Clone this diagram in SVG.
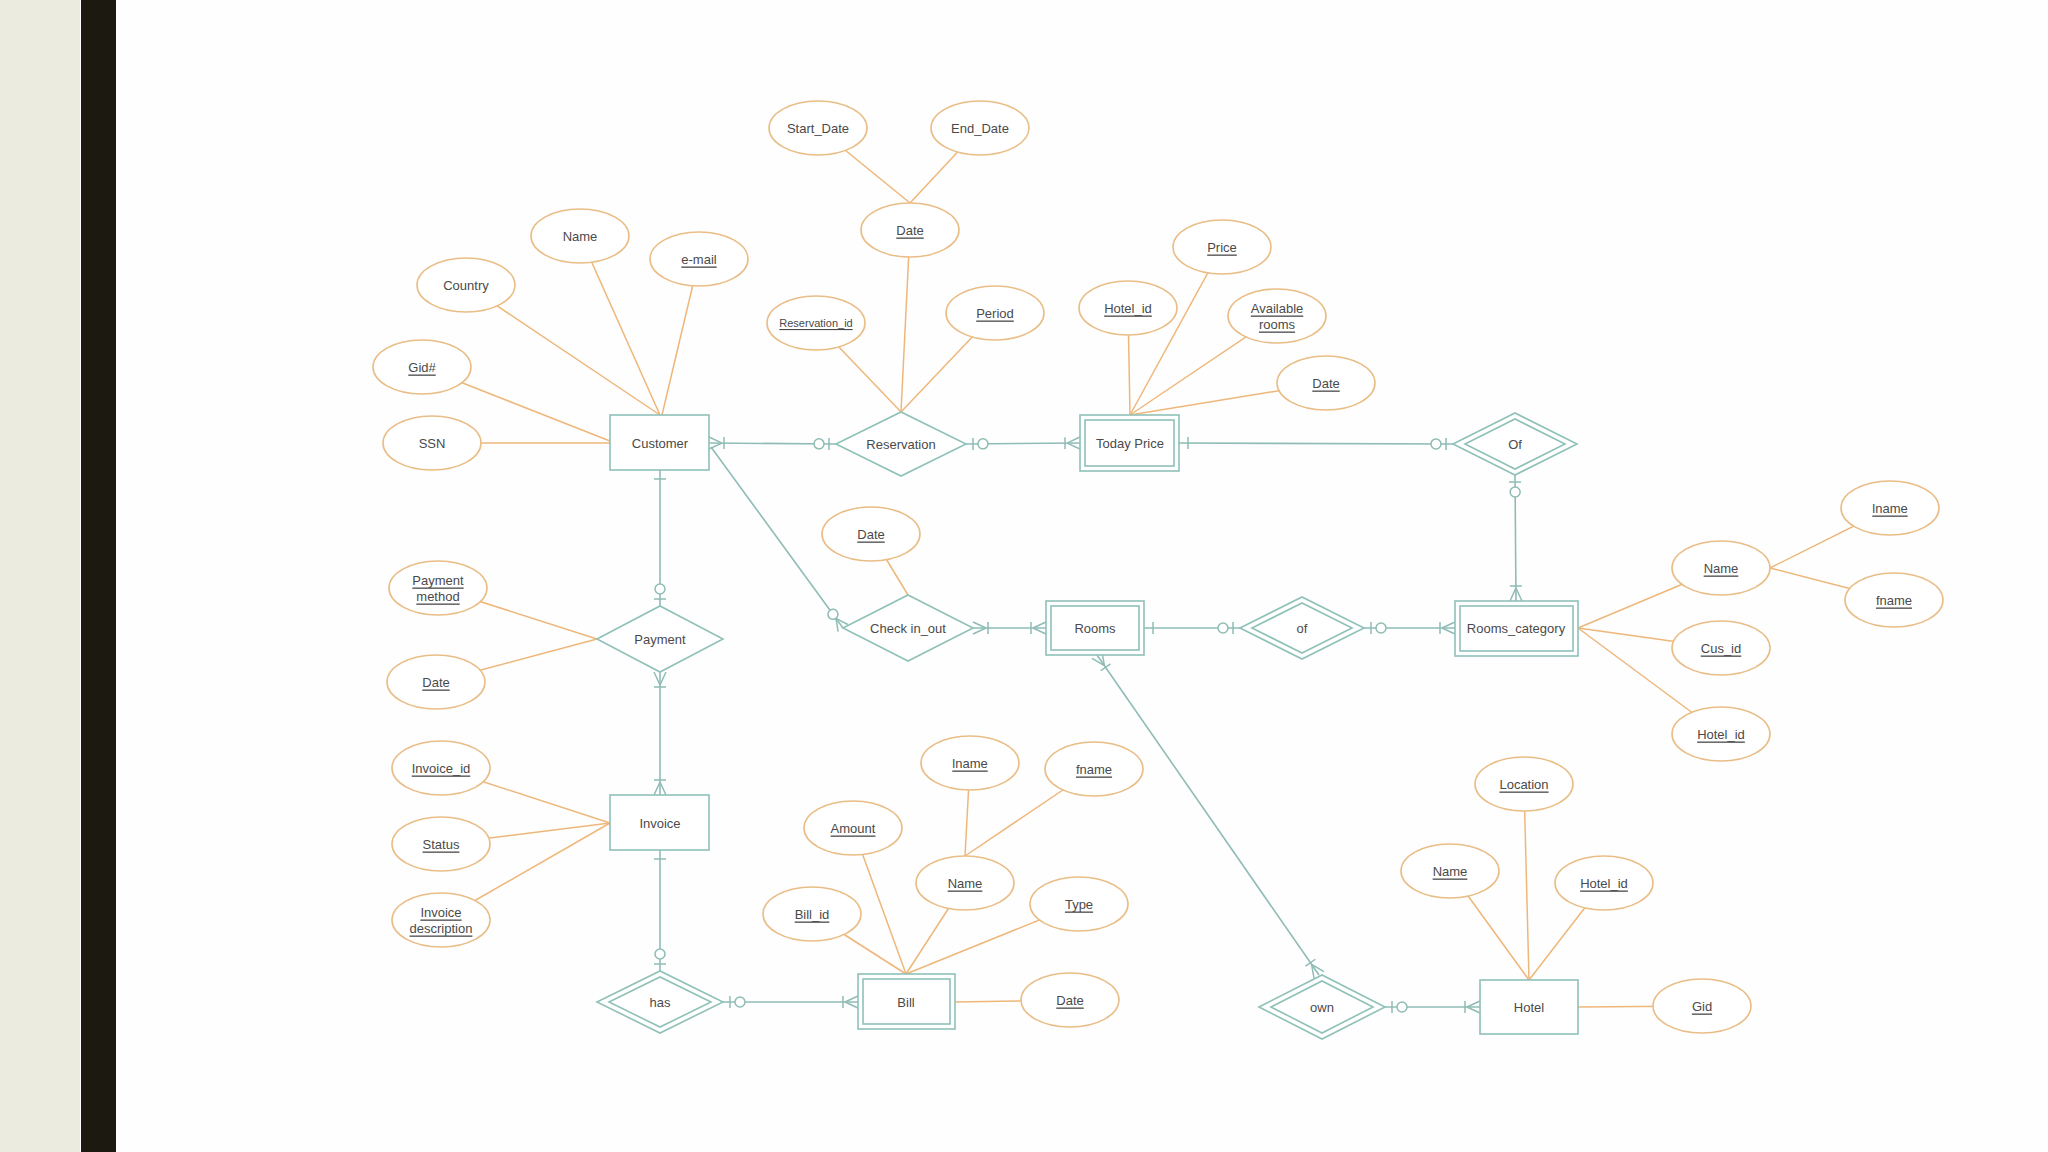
<svg xmlns="http://www.w3.org/2000/svg" width="2048" height="1152" viewBox="0 0 2048 1152">
<defs>
<style>
.ent{fill:#fff;stroke:#8fc1b9;stroke-width:1.6}
.rel{fill:#fff;stroke:#8fc1b9;stroke-width:1.6}
.att{fill:#fff;stroke:#e9bd86;stroke-width:1.6}
.al{stroke:#eeb77a;stroke-width:1.5;fill:none}
.cl{stroke:#8fbcb5;stroke-width:1.6;fill:none}
.t{font-family:"Liberation Sans",Arial,sans-serif;font-size:13px;fill:#4a4a4a;text-anchor:middle;dominant-baseline:central}
.u{text-decoration:underline}
.s{font-size:11px}
</style>
<marker id="oneMany" viewBox="-20 -10 22 20" refX="0" refY="0" markerWidth="22" markerHeight="20" markerUnits="userSpaceOnUse" orient="auto-start-reverse">
<path d="M-13,0 L0,-6 M-13,0 L0,6 M-15,-6 L-15,6" stroke="#8fbcb5" stroke-width="1.5" fill="none"/>
</marker>
<marker id="zeroOne" viewBox="-28 -10 30 20" refX="0" refY="0" markerWidth="30" markerHeight="20" markerUnits="userSpaceOnUse" orient="auto-start-reverse">
<path d="M-7,-6 L-7,6" stroke="#8fbcb5" stroke-width="1.5" fill="none"/>
<circle cx="-17" cy="0" r="5" stroke="#8fbcb5" stroke-width="1.5" fill="#fff"/>
</marker>
<marker id="zeroMany" viewBox="-28 -10 30 20" refX="0" refY="0" markerWidth="30" markerHeight="20" markerUnits="userSpaceOnUse" orient="auto-start-reverse">
<path d="M-12,0 L0,-6 M-12,0 L0,6" stroke="#8fbcb5" stroke-width="1.5" fill="none"/>
<circle cx="-17" cy="0" r="5" stroke="#8fbcb5" stroke-width="1.5" fill="#fff"/>
</marker>
<marker id="one" viewBox="-20 -10 22 20" refX="0" refY="0" markerWidth="22" markerHeight="20" markerUnits="userSpaceOnUse" orient="auto-start-reverse">
<path d="M-9,-6 L-9,6" stroke="#8fbcb5" stroke-width="1.5" fill="none"/>
</marker>
</defs>
<rect x="0" y="0" width="2048" height="1152" fill="#fefefe"/>
<rect x="0" y="0" width="80" height="1152" fill="#ecebe0"/>
<rect x="81" y="0" width="35" height="1152" fill="#1c1a10"/>

<g id="attribute-lines">
<line class="al" x1="432" y1="443" x2="610" y2="443"/>
<line class="al" x1="422" y1="367" x2="610" y2="441"/>
<line class="al" x1="466" y1="285" x2="660" y2="415"/>
<line class="al" x1="580" y1="236" x2="660" y2="415"/>
<line class="al" x1="699" y1="259" x2="662" y2="415"/>
<line class="al" x1="816" y1="323" x2="901" y2="412"/>
<line class="al" x1="910" y1="230" x2="901" y2="412"/>
<line class="al" x1="995" y1="313" x2="901" y2="412"/>
<line class="al" x1="818" y1="128" x2="910" y2="203"/>
<line class="al" x1="980" y1="128" x2="910" y2="203"/>
<line class="al" x1="1128" y1="308" x2="1130" y2="415"/>
<line class="al" x1="1222" y1="247" x2="1130" y2="415"/>
<line class="al" x1="1277" y1="316" x2="1130" y2="415"/>
<line class="al" x1="1326" y1="383" x2="1130" y2="415"/>
<line class="al" x1="1721" y1="568" x2="1578" y2="628"/>
<line class="al" x1="1721" y1="648" x2="1578" y2="628"/>
<line class="al" x1="1721" y1="734" x2="1578" y2="628"/>
<line class="al" x1="1890" y1="508" x2="1770" y2="568"/>
<line class="al" x1="1894" y1="600" x2="1770" y2="568"/>
<line class="al" x1="871" y1="534" x2="908" y2="595"/>
<line class="al" x1="438" y1="588" x2="597" y2="639"/>
<line class="al" x1="436" y1="682" x2="597" y2="639"/>
<line class="al" x1="441" y1="768" x2="610" y2="823"/>
<line class="al" x1="441" y1="844" x2="610" y2="823"/>
<line class="al" x1="441" y1="920" x2="610" y2="823"/>
<line class="al" x1="812" y1="914" x2="906" y2="974"/>
<line class="al" x1="853" y1="828" x2="906" y2="974"/>
<line class="al" x1="965" y1="883" x2="906" y2="974"/>
<line class="al" x1="1079" y1="904" x2="906" y2="974"/>
<line class="al" x1="1070" y1="1000" x2="955" y2="1002"/>
<line class="al" x1="970" y1="763" x2="965" y2="856"/>
<line class="al" x1="1094" y1="769" x2="965" y2="856"/>
<line class="al" x1="1524" y1="784" x2="1529" y2="980"/>
<line class="al" x1="1450" y1="871" x2="1529" y2="980"/>
<line class="al" x1="1604" y1="883" x2="1529" y2="980"/>
<line class="al" x1="1702" y1="1006" x2="1578" y2="1007"/>
</g>

<g id="connectors">
<path class="cl" d="M709,443 L836,444" marker-start="url(#oneMany)" marker-end="url(#zeroOne)"/>
<path class="cl" d="M966,444 L1080,443" marker-start="url(#zeroOne)" marker-end="url(#oneMany)"/>
<path class="cl" d="M1179,443 L1453,444" marker-start="url(#one)" marker-end="url(#zeroOne)"/>
<path class="cl" d="M1515,475 L1516,601" marker-start="url(#zeroOne)" marker-end="url(#oneMany)"/>
<path class="cl" d="M1364,628 L1455,628" marker-start="url(#zeroOne)" marker-end="url(#oneMany)"/>
<path class="cl" d="M1144,628 L1240,628" marker-start="url(#one)" marker-end="url(#zeroOne)"/>
<path class="cl" d="M973,628 L1046,628" marker-start="url(#oneMany)" marker-end="url(#oneMany)"/>
<path class="cl" d="M711,447 L843,628" marker-end="url(#zeroMany)"/>
<path class="cl" d="M660,470 L660,606" marker-start="url(#one)" marker-end="url(#zeroOne)"/>
<path class="cl" d="M660,672 L660,795" marker-start="url(#oneMany)" marker-end="url(#oneMany)"/>
<path class="cl" d="M660,850 L660,971" marker-start="url(#one)" marker-end="url(#zeroOne)"/>
<path class="cl" d="M723,1002 L858,1002" marker-start="url(#zeroOne)" marker-end="url(#oneMany)"/>
<path class="cl" d="M1097,655 L1319,975" marker-start="url(#oneMany)" marker-end="url(#oneMany)"/>
<path class="cl" d="M1385,1007 L1480,1007" marker-start="url(#zeroOne)" marker-end="url(#oneMany)"/>
</g>

<g id="customer"><rect class="ent" x="610" y="415" width="99" height="55"/><text class="t" x="660" y="443">Customer</text></g>
<g id="reservation"><polygon class="rel" points="836,444 901,412 966,444 901,476"/><text class="t" x="901" y="444">Reservation</text></g>
<g id="today-price"><rect class="ent" x="1080" y="415" width="99" height="56"/><rect class="ent" x="1085" y="420" width="89" height="46"/><text class="t" x="1130" y="443">Today Price</text></g>
<g id="of-top"><polygon class="rel" points="1453,444 1515,413 1577,444 1515,475"/><polygon class="rel" points="1465,444 1515,419 1565,444 1515,469"/><text class="t" x="1515" y="444">Of</text></g>
<g id="rooms-category"><rect class="ent" x="1455" y="601" width="123" height="55"/><rect class="ent" x="1460" y="606" width="113" height="45"/><text class="t" x="1516" y="628">Rooms_category</text></g>
<g id="of-mid"><polygon class="rel" points="1240,628 1302,597 1364,628 1302,659"/><polygon class="rel" points="1252,628 1302,603 1352,628 1302,653"/><text class="t" x="1302" y="628">of</text></g>
<g id="rooms"><rect class="ent" x="1046" y="601" width="98" height="54"/><rect class="ent" x="1051" y="606" width="88" height="44"/><text class="t" x="1095" y="628">Rooms</text></g>
<g id="check-in-out"><polygon class="rel" points="843,628 908,595 973,628 908,661"/><text class="t" x="908" y="628">Check in_out</text></g>
<g id="payment"><polygon class="rel" points="597,639 660,606 723,639 660,672"/><text class="t" x="660" y="639">Payment</text></g>
<g id="invoice"><rect class="ent" x="610" y="795" width="99" height="55"/><text class="t" x="660" y="823">Invoice</text></g>
<g id="has"><polygon class="rel" points="597,1002 660,971 723,1002 660,1033"/><polygon class="rel" points="609,1002 660,977 711,1002 660,1027"/><text class="t" x="660" y="1002">has</text></g>
<g id="bill"><rect class="ent" x="858" y="974" width="97" height="55"/><rect class="ent" x="863" y="979" width="87" height="45"/><text class="t" x="906" y="1002">Bill</text></g>
<g id="own"><polygon class="rel" points="1259,1007 1322,975 1385,1007 1322,1039"/><polygon class="rel" points="1271,1007 1322,981 1373,1007 1322,1033"/><text class="t" x="1322" y="1007">own</text></g>
<g id="hotel"><rect class="ent" x="1480" y="980" width="98" height="54"/><text class="t" x="1529" y="1007">Hotel</text></g>

<g id="attr-ssn"><ellipse class="att" cx="432" cy="443" rx="49" ry="27"/><text class="t" x="432" y="443">SSN</text></g>
<g id="attr-gid"><ellipse class="att" cx="422" cy="367" rx="49" ry="27"/><text class="t u" x="422" y="367">Gid#</text></g>
<g id="attr-country"><ellipse class="att" cx="466" cy="285" rx="49" ry="27"/><text class="t" x="466" y="285">Country</text></g>
<g id="attr-cname"><ellipse class="att" cx="580" cy="236" rx="49" ry="27"/><text class="t" x="580" y="236">Name</text></g>
<g id="attr-email"><ellipse class="att" cx="699" cy="259" rx="49" ry="27"/><text class="t u" x="699" y="259">e-mail</text></g>
<g id="attr-resid"><ellipse class="att" cx="816" cy="323" rx="49" ry="27"/><text class="t u s" x="816" y="323">Reservation_id</text></g>
<g id="attr-rdate"><ellipse class="att" cx="910" cy="230" rx="49" ry="27"/><text class="t u" x="910" y="230">Date</text></g>
<g id="attr-period"><ellipse class="att" cx="995" cy="313" rx="49" ry="27"/><text class="t u" x="995" y="313">Period</text></g>
<g id="attr-start"><ellipse class="att" cx="818" cy="128" rx="49" ry="27"/><text class="t" x="818" y="128">Start_Date</text></g>
<g id="attr-end"><ellipse class="att" cx="980" cy="128" rx="49" ry="27"/><text class="t" x="980" y="128">End_Date</text></g>
<g id="attr-tp-hotelid"><ellipse class="att" cx="1128" cy="308" rx="49" ry="27"/><text class="t u" x="1128" y="308">Hotel_id</text></g>
<g id="attr-price"><ellipse class="att" cx="1222" cy="247" rx="49" ry="27"/><text class="t u" x="1222" y="247">Price</text></g>
<g id="attr-avail"><ellipse class="att" cx="1277" cy="316" rx="49" ry="27"/><text class="t u" x="1277" y="308">Available</text><text class="t u" x="1277" y="324">rooms</text></g>
<g id="attr-tpdate"><ellipse class="att" cx="1326" cy="383" rx="49" ry="27"/><text class="t u" x="1326" y="383">Date</text></g>
<g id="attr-rc-name"><ellipse class="att" cx="1721" cy="568" rx="49" ry="27"/><text class="t u" x="1721" y="568">Name</text></g>
<g id="attr-rc-lname"><ellipse class="att" cx="1890" cy="508" rx="49" ry="27"/><text class="t u" x="1890" y="508">lname</text></g>
<g id="attr-rc-fname"><ellipse class="att" cx="1894" cy="600" rx="49" ry="27"/><text class="t u" x="1894" y="600">fname</text></g>
<g id="attr-cusid"><ellipse class="att" cx="1721" cy="648" rx="49" ry="27"/><text class="t u" x="1721" y="648">Cus_id</text></g>
<g id="attr-rc-hotelid"><ellipse class="att" cx="1721" cy="734" rx="49" ry="27"/><text class="t u" x="1721" y="734">Hotel_id</text></g>
<g id="attr-cdate"><ellipse class="att" cx="871" cy="534" rx="49" ry="27"/><text class="t u" x="871" y="534">Date</text></g>
<g id="attr-paymethod"><ellipse class="att" cx="438" cy="588" rx="49" ry="27"/><text class="t u" x="438" y="580">Payment</text><text class="t u" x="438" y="596">method</text></g>
<g id="attr-paydate"><ellipse class="att" cx="436" cy="682" rx="49" ry="27"/><text class="t u" x="436" y="682">Date</text></g>
<g id="attr-invid"><ellipse class="att" cx="441" cy="768" rx="49" ry="27"/><text class="t u" x="441" y="768">Invoice_id</text></g>
<g id="attr-status"><ellipse class="att" cx="441" cy="844" rx="49" ry="27"/><text class="t u" x="441" y="844">Status</text></g>
<g id="attr-invdesc"><ellipse class="att" cx="441" cy="920" rx="49" ry="27"/><text class="t u" x="441" y="912">Invoice</text><text class="t u" x="441" y="928">description</text></g>
<g id="attr-billid"><ellipse class="att" cx="812" cy="914" rx="49" ry="27"/><text class="t u" x="812" y="914">Bill_id</text></g>
<g id="attr-amount"><ellipse class="att" cx="853" cy="828" rx="49" ry="27"/><text class="t u" x="853" y="828">Amount</text></g>
<g id="attr-bname"><ellipse class="att" cx="965" cy="883" rx="49" ry="27"/><text class="t u" x="965" y="883">Name</text></g>
<g id="attr-blname"><ellipse class="att" cx="970" cy="763" rx="49" ry="27"/><text class="t u" x="970" y="763">lname</text></g>
<g id="attr-bfname"><ellipse class="att" cx="1094" cy="769" rx="49" ry="27"/><text class="t u" x="1094" y="769">fname</text></g>
<g id="attr-type"><ellipse class="att" cx="1079" cy="904" rx="49" ry="27"/><text class="t u" x="1079" y="904">Type</text></g>
<g id="attr-bdate"><ellipse class="att" cx="1070" cy="1000" rx="49" ry="27"/><text class="t u" x="1070" y="1000">Date</text></g>
<g id="attr-location"><ellipse class="att" cx="1524" cy="784" rx="49" ry="27"/><text class="t u" x="1524" y="784">Location</text></g>
<g id="attr-hname"><ellipse class="att" cx="1450" cy="871" rx="49" ry="27"/><text class="t u" x="1450" y="871">Name</text></g>
<g id="attr-hhotelid"><ellipse class="att" cx="1604" cy="883" rx="49" ry="27"/><text class="t u" x="1604" y="883">Hotel_id</text></g>
<g id="attr-hgid"><ellipse class="att" cx="1702" cy="1006" rx="49" ry="27"/><text class="t u" x="1702" y="1006">Gid</text></g>
</svg>
